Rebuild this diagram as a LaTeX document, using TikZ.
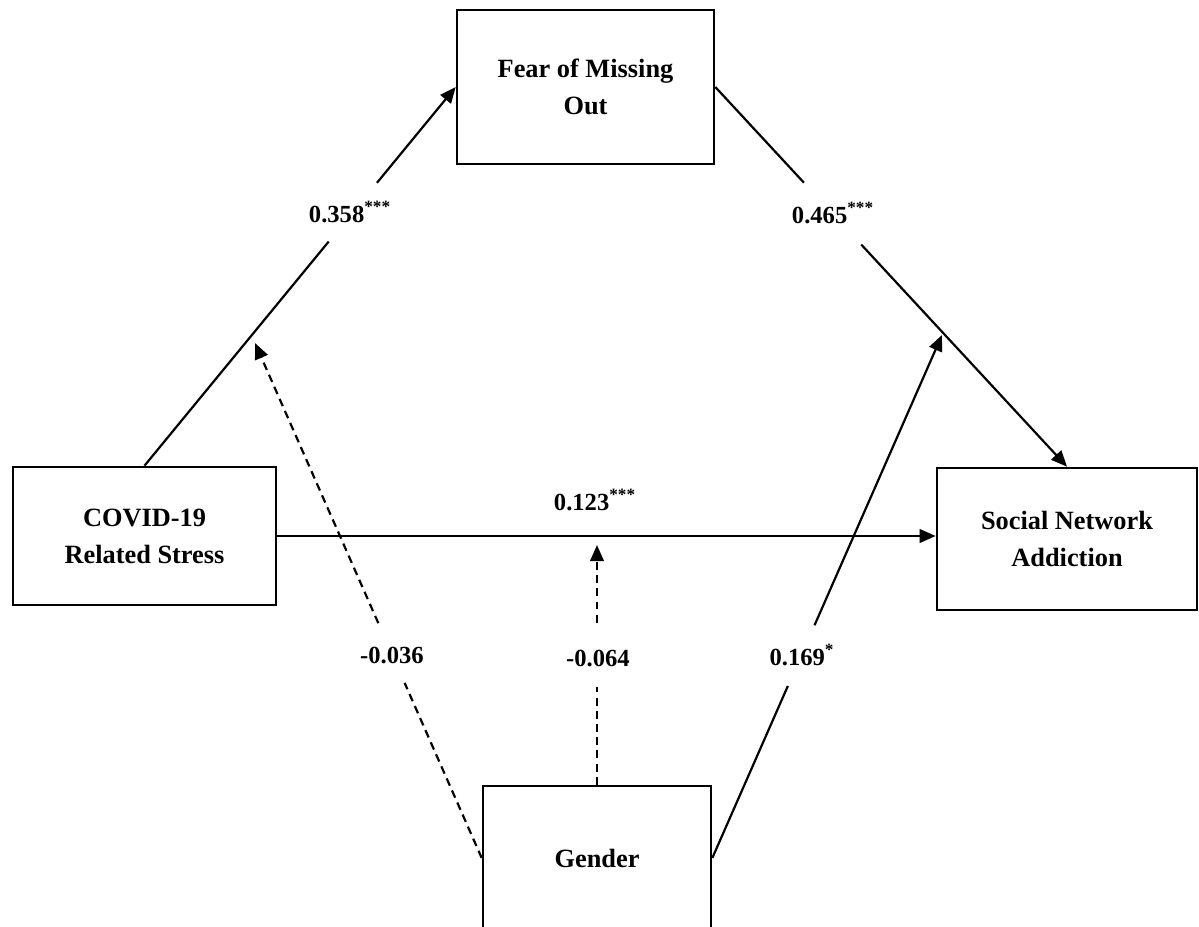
\documentclass[tikz,border=0pt]{standalone}
\usepackage{fontspec}
\setmainfont{Liberation Serif}
\usetikzlibrary{arrows.meta}
\begin{document}
\begin{tikzpicture}[x=0.02cm,y=-0.02cm,line width=1.25pt,
box/.style={draw,line width=1.5pt,align=center,inner sep=0pt,font=\fontsize{15}{21}\selectfont\bfseries},
lbl/.style={inner sep=0pt,font=\fontsize{14}{16}\selectfont\bfseries},
arr/.style={-{Triangle[length=0.32cm,width=0.27cm]}},
dsh/.style={dash pattern=on 4.5pt off 3pt}]
\useasboundingbox (0,0) rectangle (1199,926);
\clip (0,0) rectangle (1199,926);
\node[box,minimum width=5.14cm,minimum height=3.08cm](FM) at (585.5,87){Fear of Missing\\Out};
\node[box,minimum width=5.26cm,minimum height=2.76cm](CS) at (144.5,536){COVID-19\\Related Stress};
\node[box,minimum width=5.2cm,minimum height=2.84cm](SN) at (1067,539){Social Network\\Addiction};
\node[box,minimum width=4.56cm,minimum height=2.88cm](G) at (597,858){Gender};
\coordinate(m1) at (255,343);
\coordinate(m2) at (597,545);
\coordinate(m3) at (942,335);
% paths with gaps for the labels
\path (CS.north) -- coordinate[pos=0.592](a1) coordinate[pos=0.747](a2) (FM.west);
\draw (CS.north) -- (a1);
\draw[arr] (a2) -- (FM.west);
\path (FM.east) -- coordinate[pos=0.252](b1) coordinate[pos=0.415](b2) (SN.north);
\draw (FM.east) -- (b1);
\draw[arr] (b2) -- (SN.north);
\draw[arr] (CS.east) -- (CS.east -| SN.west);
\path (G.west) -- coordinate[pos=0.34](c1) coordinate[pos=0.456](c2) (m1);
\draw[dsh] (G.west) -- (c1);
\draw[dsh,arr] (c2) -- (m1);
\path (G.north) -- coordinate[pos=0.407](d1) coordinate[pos=0.676](d2) (m2);
\draw[dsh] (G.north) -- (d1);
\draw[dsh,arr] (d2) -- (m2);
\path (G.east) -- coordinate[pos=0.329](e1) coordinate[pos=0.445](e2) (m3);
\draw (G.east) -- (e1);
\draw[arr] (e2) -- (m3);
% labels
\node[lbl](l1) at (350,212){0.358\textsuperscript{***}};
\node[lbl](l2) at (833,213){0.465\textsuperscript{***}};
\node[lbl](l3) at (595,500){0.123\textsuperscript{***}};
\node[lbl](l4) at (392,655){-0.036};
\node[lbl](l5) at (598,658){-0.064};
\node[lbl](l6) at (802,655){0.169\textsuperscript{*}};
\end{tikzpicture}
\end{document}
